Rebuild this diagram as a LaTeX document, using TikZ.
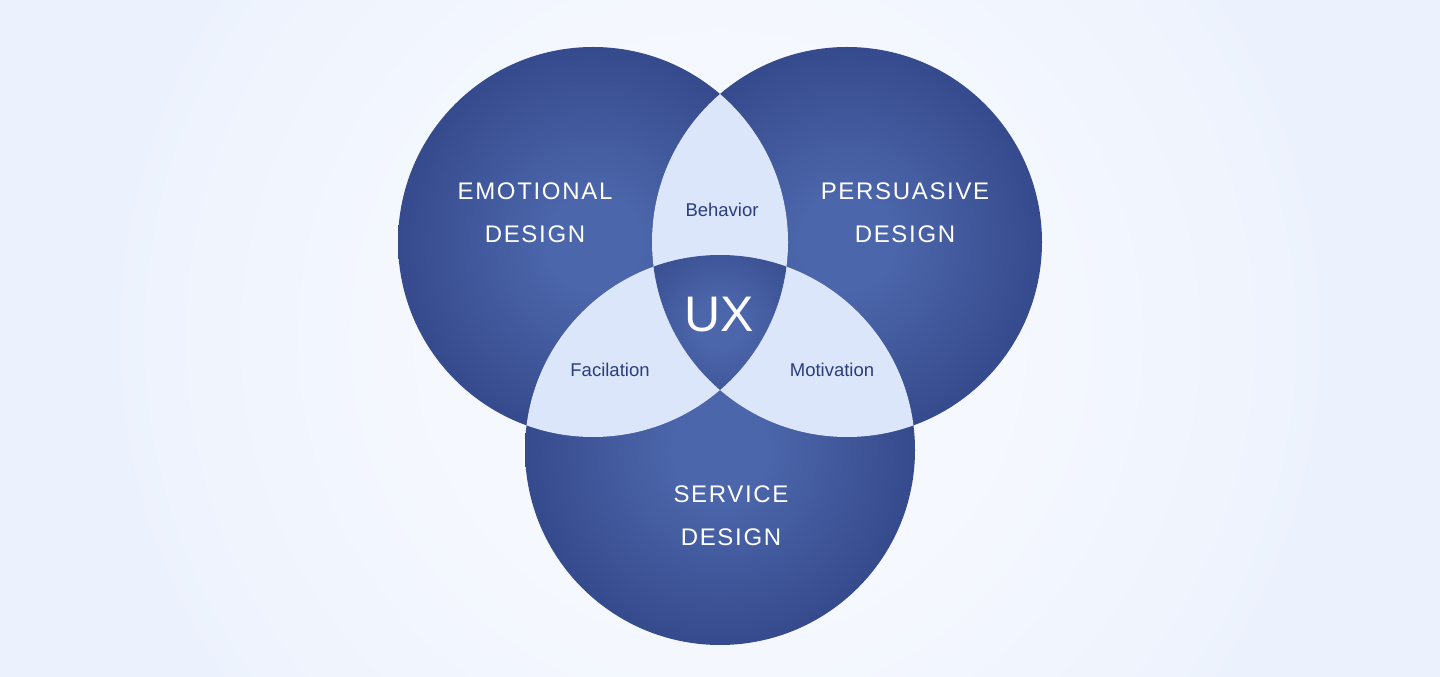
\documentclass[tikz,border=0pt]{standalone}
\usepackage{fontspec}
\setmainfont{Liberation Sans}
\newfontfamily\capsfont[LetterSpace=7]{Liberation Sans}
\usetikzlibrary{positioning}

\definecolor{navyin}{HTML}{4C66AB}
\definecolor{navyout}{HTML}{2A3C7C}
\definecolor{lens}{HTML}{DCE6FA}
\definecolor{lenstext}{HTML}{2B3D7E}
\definecolor{bgin}{HTML}{F5F8FE}
\definecolor{bgout}{HTML}{EBF1FD}

\pgfdeclareradialshading{navyball}{\pgfpointorigin}{color(0bp)=(navyin); color(6bp)=(navyin); color(35bp)=(navyout); color(50bp)=(navyout)}
\pgfdeclareradialshading{bglight}{\pgfpointorigin}{color(0bp)=(bgin); color(12bp)=(bgin); color(28bp)=(bgout); color(50bp)=(bgout)}

\tikzset{
  setcircle/.style={circle, minimum size=390pt, inner sep=0pt, shade, shading=navyball},
  biglabel/.style={text=white, align=center, font=\capsfont\fontsize{24}{43}\selectfont},
  smalllabel/.style={text=lenstext, font=\fontsize{18.5}{22}\selectfont},
}

\begin{document}
\begin{tikzpicture}[x=1pt, y=1pt]
        % Background
        \useasboundingbox (0, 0) rectangle (1440, 677);
        \fill[bgout] (0, 0) rectangle (1440, 677);
        \begin{scope}
            \clip (0, 0) rectangle (1440, 677);
            \shade[shading=bglight] (720, 340) circle[radius=600];
        \end{scope}
        % Draw the sets
        \node[setcircle] at (593, 435) (emo) {};
        \node[setcircle] at (847, 435) (per) {};
        \node[setcircle] at (720, 227) (ser) {};
        % Pairwise overlaps
        \begin{scope}
            \clip (emo.center) circle[radius=195];
            \fill[lens] (per.center) circle[radius=195];
            \fill[lens] (ser.center) circle[radius=195];
        \end{scope}
        \begin{scope}
            \clip (per.center) circle[radius=195];
            \fill[lens] (ser.center) circle[radius=195];
        \end{scope}
        % Centre of all three
        \begin{scope}
            \clip (emo.center) circle[radius=195];
            \clip (per.center) circle[radius=195];
            \clip (ser.center) circle[radius=195];
            \shade[shading=navyball] (720, 352) circle[radius=100];
        \end{scope}
        % Labels
        \node[biglabel] at (535, 464) (emolabel) {EMOTIONAL\\DESIGN};
        \node[biglabel] at (905, 464) (perlabel) {PERSUASIVE\\DESIGN};
        \node[biglabel] at (731, 161) (serlabel) {SERVICE\\DESIGN};
        \node[smalllabel] at (722, 467) (behavior) {Behavior};
        \node[smalllabel] at (610, 307) (facilation) {Facilation};
        \node[smalllabel] at (832, 307) (motivation) {Motivation};
        \node[text=white, font=\fontsize{50}{55}\selectfont] at (719, 362) (ux) {UX};
\end{tikzpicture}
\end{document}
